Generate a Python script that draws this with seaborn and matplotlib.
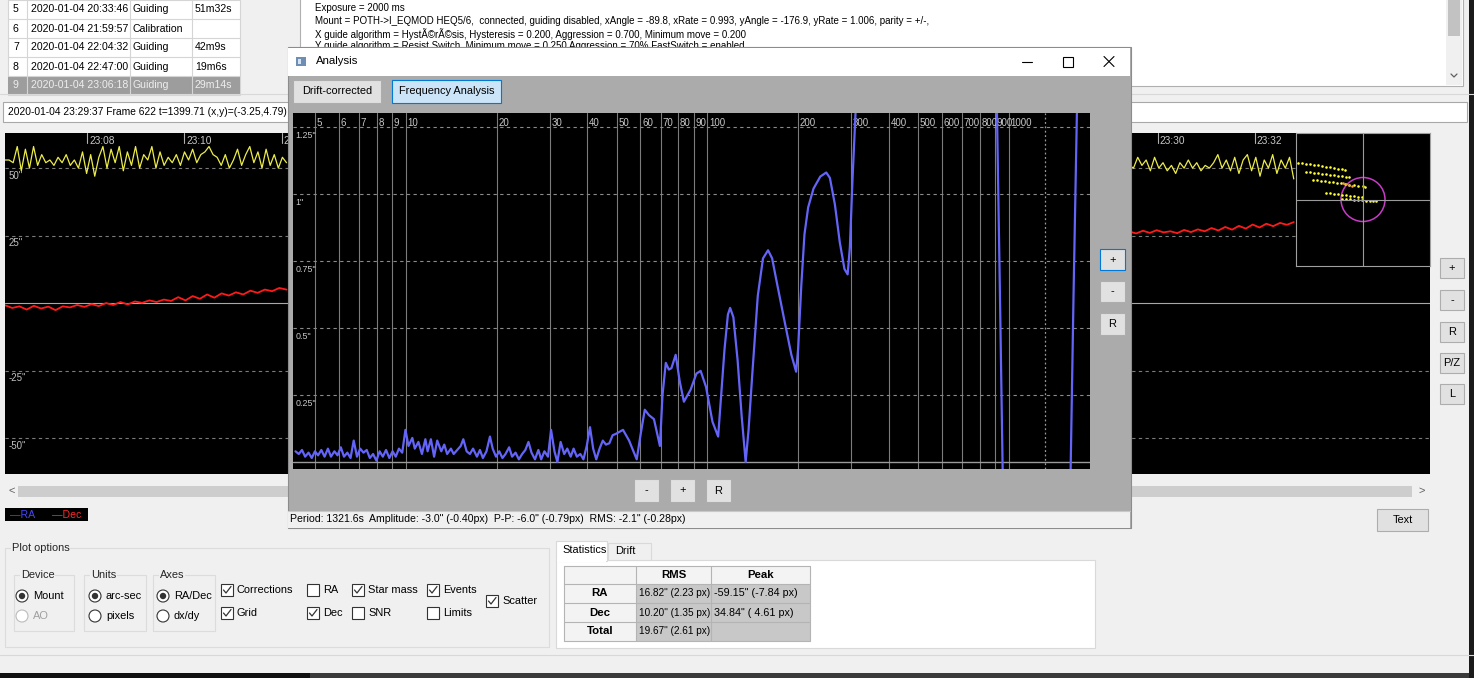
import numpy as np
import matplotlib
matplotlib.use('Agg')
import matplotlib.pyplot as plt
import matplotlib.patches as mpatches
import matplotlib.transforms as mtransforms
from matplotlib import font_manager
import seaborn as sns

sns.set_theme(style='white')
GUI = ['Liberation Sans', 'DejaVu Sans']
plt.rcParams['font.family'] = GUI
try:
    font_manager.findfont('Liberation Sans Narrow', fallback_to_default=False)
    NARROW, NS = ['Liberation Sans Narrow', 'Liberation Sans'], 1.0
except ValueError:
    NARROW, NS = ['Liberation Sans', 'DejaVu Sans'], 0.82

# ---------------- data ----------------
# frequency analysis (period in s -> amplitude in arc-sec)
freq_period_s = [
    4.30, 4.41, 4.52, 4.63, 4.75, 4.87, 4.99, 5.11, 5.24, 5.37,
    5.51, 5.64, 5.79, 5.93, 6.08, 6.23, 6.39, 6.55, 6.71, 6.88,
    7.05, 7.23, 7.41, 7.59, 7.78, 7.98, 8.18, 8.38, 8.59, 8.81,
    9.03, 9.25, 9.48, 9.72, 9.96, 10.2, 10.5, 10.7, 11.0, 11.3,
    11.6, 11.8, 12.1, 12.4, 12.7, 13.1, 13.4, 13.7, 14.1, 14.4,
    14.8, 15.2, 15.5, 15.9, 16.3, 16.7, 17.2, 17.6, 18.0, 18.5,
    19.0, 19.4, 19.9, 20.4, 20.9, 21.4, 22.0, 22.5, 23.1, 23.7,
    24.3, 24.9, 25.5, 26.1, 26.8, 27.5, 28.1, 28.8, 29.6, 30.3,
    31.1, 31.8, 32.6, 33.5, 34.3, 35.2, 36.0, 36.9, 37.9, 38.8,
    39.8, 40.8, 41.8, 42.8, 43.9, 45.0, 46.1, 47.3, 48.5, 49.7,
    52.5, 55.0, 58.3, 60.0, 62.0, 64.0, 66.5, 69.6, 71.0, 72.8,
    74.5, 76.0, 78.5, 81.0, 83.6, 88.0, 92.0, 95.0, 99.0, 104,
    108.6, 112, 114, 117, 119, 122, 126, 130, 134, 137,
    141, 147, 153, 159, 164, 170, 180, 190, 197, 200,
    205, 210, 216, 225, 237, 248, 255, 265, 275, 285,
    292, 297, 303, 313, 340, 400, 550, 750, 880, 914,
    935, 955, 990, 1100, 1300, 1500, 1603, 1640, 1684, 1760,
    1900]
freq_amp_arcsec = [
    0.04, 0.03, 0.045, 0.02, 0.035, 0.015, 0.04, 0.025, 0.045, 0.02,
    0.05, 0.02, 0.04, 0.025, 0.055, 0.02, 0.035, 0.015, 0.08, 0.02,
    0.05, 0.035, 0.045, 0.015, 0.03, 0.005, 0.04, 0.02, 0.045, 0.015,
    0.04, 0.02, 0.05, 0.035, 0.12, 0.06, 0.09, 0.05, 0.075, 0.03,
    0.085, 0.04, 0.085, 0.02, 0.08, 0.04, 0.065, 0.03, 0.05, 0.03,
    0.045, 0.06, 0.085, 0.04, 0.03, 0.05, 0.02, 0.045, 0.015, 0.04,
    0.095, 0.05, 0.02, 0.04, 0.015, 0.03, 0.055, 0.02, 0.035, 0.01,
    0.03, 0.045, 0.075, 0.035, 0.01, 0.045, 0.01, 0.04, 0.02, 0.12,
    0.04, 0.0, 0.075, 0.03, 0.05, 0.02, 0.05, 0.02, 0.03, 0.01,
    0.06, 0.13, 0.05, 0.01, 0.05, 0.08, 0.065, 0.07, 0.1, 0.105,
    0.12, 0.08, 0.01, 0.10, 0.195, 0.175, 0.16, 0.06, 0.25, 0.37,
    0.345, 0.35, 0.40, 0.30, 0.225, 0.27, 0.33, 0.34, 0.28, 0.15,
    0.095, 0.30, 0.42, 0.55, 0.575, 0.54, 0.38, 0.17, 0.0, 0.12,
    0.33, 0.62, 0.76, 0.79, 0.76, 0.67, 0.53, 0.40, 0.337, 0.42,
    0.66, 0.85, 0.95, 1.02, 1.065, 1.08, 1.06, 0.96, 0.82, 0.72,
    0.70, 0.80, 1.05, 1.40, 2.6, 4.0, 5.0, 3.5, 1.6, 1.3,
    0.62, -0.05, -0.9, -2.5, -3.0, -1.3, -0.05, 0.62, 1.32, 2.4,
    3.5]
period_ticks = [5, 6, 7, 8, 9, 10, 20, 30, 40, 50, 60, 70, 80, 90, 100,
                200, 300, 400, 500, 600, 700, 800, 900, 1000]
amp_ticks = [0.25, 0.5, 0.75, 1.0, 1.25]
amp_tick_labels = ['0.25"', '0.5"', '0.75"', '1"', '1.25"']
period_total_s = 1321.6

# guide graph (minutes after 23:00 -> arc-sec)
ra_left_span = (6.315, 12.1)
ra_left = [53, 53, 52, 58, 49, 57, 50, 58, 51, 55,
           52, 53, 51, 54, 52, 55, 51, 53, 50, 56,
           48, 55, 47, 54, 58, 50, 57, 52, 58, 49,
           56, 51, 58, 50, 55, 53, 58, 50, 56, 51,
           54, 52, 55, 51, 56, 53, 57, 52, 55, 56,
           58, 55, 54, 51, 55, 50, 53, 57, 51, 55,
           58, 52, 56, 50, 57, 51, 55, 50, 54, 52]
ra_right_span = (29.42, 32.8)
ra_right = [51, 50, 54, 51, 53, 49, 54, 50, 52, 49, 51, 48, 52, 50, 53, 50, 52, 49, 51, 50,
            52, 55, 50, 53, 49, 54, 48, 53, 55, 49, 54, 47, 53, 50, 55, 48, 53, 50, 54, 46]
dec_left_span = (6.315, 12.1)
dec_left = [-0.8, -1.8, -1.2, -2.4, -1.0, -2.0, -1.3, -2.6, -1.2, -1.6,
            -0.7, -1.4, -0.4, -1.1, 0.0, -0.7, 0.4, -0.5, 0.6, 0.1,
            1.0, 0.4, 1.3, 0.8, 2.2, 1.0, 2.6, 1.6, 3.2, 2.0,
            3.6, 2.8, 4.0, 3.2, 4.6, 3.8, 5.0, 4.4, 5.6, 5.0]
dec_right_span = (29.42, 32.8)
dec_right = [26.5, 25.8, 26.8, 26.0, 27.0, 26.2, 26.6, 25.9, 27.1, 26.3, 27.3, 26.6, 27.8,
             26.9, 28.2, 27.2, 28.6, 27.6, 29.1, 28.0, 29.4, 28.5, 29.7, 29.0, 30.0]
guide_grid = [-50, -25, 25, 50]
guide_grid_labels = ['-50"', '-25"', '25"', '50"']
time_tick_min = list(range(8, 36, 2))

# scatter inset
scatter_dx = [-65, -61, -57, -53, -49, -45, -41, -37, -33, -29, -25, -21, -18,
              -57, -53, -49, -45, -41, -37, -33, -29, -25, -21, -17, -14,
              -50, -46, -42, -38, -34, -30, -26, -22, -18, -14, -9, -5, 0, 2,
              -37, -33, -29, -25, -21, -17, -13, -9, -5, -1,
              -21, -17, -13, -9, -5, -1, 3, 7, 10, 13]
scatter_dy = [37, 37, 36, 36, 35, 35, 34, 33, 33, 32, 31, 31, 30,
              28, 28, 27, 27, 26, 26, 25, 25, 24, 24, 23, 23,
              20, 20, 19, 19, 18, 18, 17, 17, 16, 15, 15, 14, 14, 13,
              7, 7, 6, 6, 5, 5, 4, 4, 3, 3,
              1, 1, 1, 0, 0, 0, -1, -1, -1, -1]
scatter_recent_dx = [-20, -17, -14, -11]
scatter_recent_dy = [17, 16, 15, 14]
scatter_radius = 22

# session list / stats
list_index = ['5', '6', '7', '8', '9']
list_start = ['2020-01-04 20:33:46', '2020-01-04 21:59:57', '2020-01-04 22:04:32',
              '2020-01-04 22:47:00', '2020-01-04 23:06:18']
list_type = ['Guiding', 'Calibration', 'Guiding', 'Guiding', 'Guiding']
list_duration = ['51m32s', '', '42m9s', '19m6s', '29m14s']
stats_rows = ['RA', 'Dec', 'Total']
stats_rms = ['16.82" (2.23 px)', '10.20" (1.35 px)', '19.67" (2.61 px)']
stats_peak = ['-59.15" (-7.84 px)', '34.84" ( 4.61 px)', '']

# ---------------- helpers ----------------
W, H = 1474, 678
fig = plt.figure(figsize=(W / 100, H / 100), dpi=100)
fig.patch.set_facecolor('#f0f0f0')


def px_axes(x0, y0, x1, y1, z):
    return fig.add_axes([x0 / W, 1 - y1 / H, (x1 - x0) / W, (y1 - y0) / H], zorder=z)


def canvas(z):
    ax = px_axes(0, 0, W, H, z)
    ax.set_xlim(0, W)
    ax.set_ylim(H, 0)
    ax.axis('off')
    return ax


def box(ax, x0, y0, x1, y1, fc='#f0f0f0', ec='none', lw=0.8):
    ax.add_patch(mpatches.Rectangle((x0, y0), x1 - x0, y1 - y0, facecolor=fc,
                                    edgecolor=ec, linewidth=lw))


def label(ax, x, y, s, size=7.9, color='black', ha='left', narrow=False, **kw):
    if narrow:
        size *= NS
    ax.text(x, y, s, fontsize=size, color=color, ha=ha, va='center',
            family=NARROW if narrow else GUI, **kw)


def button(ax, x0, y0, x1, y1, s, fc='#e1e1e1', ec='#adadad', size=7.9):
    box(ax, x0, y0, x1, y1, fc, ec)
    label(ax, (x0 + x1) / 2, (y0 + y1) / 2, s, size=size, ha='center')


def checkbox(ax, x, y, s, checked):
    box(ax, x, y - 6, x + 12, y + 6, 'white', '#333333')
    if checked:
        ax.plot([x + 2.5, x + 5, x + 10], [y, y + 3, y - 3.5], color='#333333', lw=0.9)
    label(ax, x + 16, y, s)


def radio(ax, x, y, s, on, enabled=True):
    col = '#333333' if enabled else '#bcbcbc'
    ax.add_patch(mpatches.Circle((x, y), 6, facecolor='white', edgecolor=col, lw=0.8))
    if on:
        ax.add_patch(mpatches.Circle((x, y), 3.2, facecolor='#333333', edgecolor='none'))
    label(ax, x + 11, y, s, color='black' if enabled else '#a0a0a0')


def group(ax, x0, y0, x1, y1, title):
    box(ax, x0, y0, x1, y1, 'none', '#dcdcdc')
    ax.text(x0 + 7, y0, title, fontsize=7.9, va='center', ha='left',
            bbox=dict(facecolor='#f0f0f0', edgecolor='none', pad=0.5))


# ---------------- base window ----------------
base = canvas(0)

# session list
box(base, 8, 0, 240, 95, 'white', '#d5d5d5')
box(base, 8, 76, 240, 95, '#9d9d9d')
for yl in [19, 38, 57, 76]:
    base.plot([8, 240], [yl, yl], color='#d5d5d5', lw=0.8)
for xl in [27, 130, 192]:
    base.plot([xl, xl], [0, 95], color='#d5d5d5', lw=0.8)
for i in range(len(list_index)):
    yc = 9.5 + 19 * i
    c = '#eeeeee' if i == len(list_index) - 1 else 'black'
    label(base, 13, yc, list_index[i], 9.2, c, narrow=True)
    label(base, 31, yc, list_start[i], 9.2, c, narrow=True)
    label(base, 133, yc, list_type[i], 9.2, c, narrow=True)
    label(base, 195, yc, list_duration[i], 9.2, c, narrow=True)

# info text
box(base, 300, -2, 1463, 86, 'white', '#b0b0b0')
box(base, 1446, 0, 1462, 85, '#f0f0f0')
box(base, 1448, 0, 1460, 36, '#c2c2c2')
base.plot([1451, 1454, 1457], [74, 77, 74], color='#606060', lw=0.9)
label(base, 315, 8, 'Exposure = 2000 ms', 8.6, narrow=True)
label(base, 315, 21, 'Mount = POTH->I_EQMOD HEQ5/6,  connected, guiding disabled, xAngle = -89.8, '
      'xRate = 0.993, yAngle = -176.9, yRate = 1.006, parity = +/-,', 8.6, narrow=True)
label(base, 315, 34, 'X guide algorithm = HystÃ©rÃ©sis, Hysteresis = 0.200, Aggression = 0.700, '
      'Minimum move = 0.200', 8.6, narrow=True)
label(base, 315, 46, 'Y guide algorithm = Resist Switch, Minimum move = 0.250 Aggression = 70% '
      'FastSwitch = enabled', 8.6, narrow=True)
base.plot([0, W], [94, 94], color='#d8d8d8', lw=0.8)

# status line
box(base, 3, 102, 1467, 122, 'white', '#a8a8a8')
label(base, 8, 112, '2020-01-04 23:29:37 Frame 622 t=1399.71 (x,y)=(-3.25,4.79)', 9.0, narrow=True)

# scrollbar + legend + buttons
box(base, 18, 486, 1412, 497, '#cdcdcd')
label(base, 12, 491, '<', 8, '#606060', ha='center')
label(base, 1422, 491, '>', 8, '#606060', ha='center')
box(base, 5, 508, 88, 521, 'black')
label(base, 10, 514.5, '—RA', 7.6, '#4646ff')
label(base, 52, 514.5, '—Dec', 7.6, '#ff2a2a')
button(base, 1377, 509, 1428, 531, 'Text')
for s, y0 in zip(['+', '-', 'R', 'P/Z', 'L'], [258, 290, 322, 353, 384]):
    button(base, 1440, y0, 1464, y0 + 20, s)

# plot options
group(base, 5, 548, 549, 647, 'Plot options')
group(base, 14, 575, 74, 631, 'Device')
group(base, 84, 575, 146, 631, 'Units')
group(base, 153, 575, 215, 631, 'Axes')
radio(base, 22, 596, 'Mount', True)
radio(base, 22, 616, 'AO', False, enabled=False)
radio(base, 95, 596, 'arc-sec', True)
radio(base, 95, 616, 'pixels', False)
radio(base, 163, 596, 'RA/Dec', True)
radio(base, 163, 616, 'dx/dy', False)
checkbox(base, 221, 590, 'Corrections', True)
checkbox(base, 221, 613, 'Grid', True)
checkbox(base, 307, 590, 'RA', False)
checkbox(base, 307, 613, 'Dec', True)
checkbox(base, 352, 590, 'Star mass', True)
checkbox(base, 352, 613, 'SNR', False)
checkbox(base, 427, 590, 'Events', True)
checkbox(base, 427, 613, 'Limits', False)
checkbox(base, 486, 601, 'Scatter', True)

# statistics
box(base, 556, 560, 1095, 648, 'white', '#d9d9d9')
box(base, 608, 543, 651, 560, '#f0f0f0', '#d9d9d9')
box(base, 556, 541, 607, 561, 'white', '#d9d9d9')
box(base, 557, 559, 606, 562, 'white')
label(base, 562, 550, 'Statistics')
label(base, 615, 551, 'Drift')
col_x = [564, 636, 711, 810]
row_y = [566, 584, 603, 622, 641]
box(base, col_x[0], row_y[0], col_x[3], row_y[1], '#f3f3f3')
box(base, col_x[0], row_y[1], col_x[1], row_y[4], '#f3f3f3')
box(base, col_x[1], row_y[1], col_x[3], row_y[4], '#c8c8c8')
for yl in row_y:
    base.plot([col_x[0], col_x[3]], [yl, yl], color='#b4b4b4', lw=0.8)
for xl in col_x:
    base.plot([xl, xl], [row_y[0], row_y[4]], color='#b4b4b4', lw=0.8)
label(base, 673.5, 575, 'RMS', 8.2, ha='center', weight='bold')
label(base, 760.5, 575, 'Peak', 8.2, ha='center', weight='bold')
for i in range(len(stats_rows)):
    yc = (row_y[i + 1] + row_y[i + 2]) / 2
    label(base, 600, yc, stats_rows[i], 8.2, ha='center', weight='bold')
    label(base, 639, yc, stats_rms[i], 8.8, narrow=True)
    label(base, 714, yc, stats_peak[i], 9.4, narrow=True)

base.plot([0, W], [655, 655], color='#d8d8d8', lw=0.8)
box(base, 0, 673, 310, 678, '#101010')
box(base, 310, 673, W, 678, '#3a3a3a')
box(base, 1469, 0, W, 678, '#1a1a1a')

# ---------------- guide graph ----------------
ag = px_axes(5, 133, 1430, 474, 1)
ag.set_facecolor('black')
for sp in ag.spines.values():
    sp.set_visible(False)
ag.set_xticks([])
ag.set_yticks([])
for v, t in zip(guide_grid, guide_grid_labels):
    ag.axhline(v, color='#7a7a7a', lw=0.8, ls=(0, (3, 3)))
    ag.annotate(t, xy=(0, v), xycoords=mtransforms.blended_transform_factory(ag.transAxes, ag.transData),
                xytext=(2.5, -2), textcoords='offset points', va='top', ha='left',
                color='#c0c0c0', fontsize=7)
ag.axhline(0, color='#a8a8a8', lw=0.8)
tb = mtransforms.blended_transform_factory(ag.transData, ag.transAxes)
for m in time_tick_min:
    ag.axvline(m, ymin=1 - 10 / 341, ymax=1, color='#b0b0b0', lw=0.8)
    ag.annotate(f'23:{m:02d}', xy=(m, 1), xycoords=tb, xytext=(1.5, -5.5),
                textcoords='offset points', va='center', ha='left', color='#c8c8c8', fontsize=7.3)
for span, vals, col, lw in [(ra_left_span, ra_left, '#ecec48', 0.9),
                            (ra_right_span, ra_right, '#ecec48', 0.9),
                            (dec_left_span, dec_left, '#ff1a1a', 1.3),
                            (dec_right_span, dec_right, '#ff1a1a', 1.3)]:
    sns.lineplot(x=np.linspace(span[0], span[1], len(vals)), y=vals, ax=ag,
                 color=col, linewidth=lw, estimator=None, sort=False)
ag.set_xlim(6.315, 35.6)
ag.set_ylim(-63.3, 63.0)
ag.set_xlabel('')
ag.set_ylabel('')

# scatter inset
ai = px_axes(1296, 133, 1430, 266, 2)
ai.set_facecolor('black')
for sp in ai.spines.values():
    sp.set_color('#a0a0a0')
    sp.set_linewidth(0.8)
ai.set_xticks([])
ai.set_yticks([])
ai.axhline(0, color='#9a9a9a', lw=0.8)
ai.axvline(0, color='#9a9a9a', lw=0.8)
ai.add_patch(mpatches.Circle((0, 0), scatter_radius, fill=False, edgecolor='#c83cc8', lw=1.1))
sns.scatterplot(x=scatter_dx, y=scatter_dy, ax=ai, color='#ffff30', s=3.5, marker='o', linewidth=0)
sns.scatterplot(x=scatter_recent_dx, y=scatter_recent_dy, ax=ai, color='#ff9a40', s=3.5,
                marker='o', linewidth=0)
ai.set_xlim(-67, 67)
ai.set_ylim(-66.5, 66.5)
ai.set_xlabel('')
ai.set_ylabel('')

# ---------------- analysis window ----------------
win = canvas(3)
box(win, 288, 47, 1131, 528, '#ababab', '#8c8c8c')
box(win, 288.5, 47.5, 1130.5, 76, 'white')
box(win, 296, 57, 306, 66, '#6d8fb5')
box(win, 298, 59, 301, 64, '#d6e2ee')
label(win, 316, 61.5, 'Analysis', 8.2)
win.plot([1022, 1032], [61.5, 61.5], color='black', lw=0.8)
box(win, 1063, 56.5, 1073, 66.5, 'none', 'black')
win.plot([1104, 1114], [56.5, 66.5], color='black', lw=0.8)
win.plot([1104, 1114], [66.5, 56.5], color='black', lw=0.8)
button(win, 293, 80, 381, 103, 'Drift-corrected')
button(win, 392, 80, 501, 103, 'Frequency Analysis', fc='#cce4f7', ec='#0078d7')
button(win, 634, 479, 659, 502, '-')
button(win, 670, 479, 695, 502, '+')
button(win, 706, 479, 731, 502, 'R')
button(win, 1100, 249, 1125, 270, '+', ec='#0078d7')
button(win, 1100, 281, 1125, 302, '-')
button(win, 1100, 313, 1125, 335, 'R')
box(win, 288.5, 511, 1130.5, 527.5, '#f0f0f0')
win.plot([288.5, 1130.5], [511, 511], color='#c8c8c8', lw=0.8)
label(win, 290, 519.5, 'Period: 1321.6s  Amplitude: -3.0" (-0.40px)  P-P: -6.0" (-0.79px)  '
      'RMS: -2.1" (-0.28px)', 9.2, narrow=True)

# frequency plot
af = px_axes(293, 113, 1090, 469, 4)
af.set_facecolor('black')
for sp in af.spines.values():
    sp.set_visible(False)
sns.lineplot(x=freq_period_s, y=freq_amp_arcsec, ax=af, color='#6464f8', linewidth=1.6,
             estimator=None, sort=False, zorder=5)
af.set_xscale('log')
af.set_xlim(4.22, 1860)
af.set_ylim(-0.026, 1.302)
af.set_xticks([])
af.set_yticks([])
af.minorticks_off()
af.set_xlabel('')
af.set_ylabel('')
fb = mtransforms.blended_transform_factory(af.transData, af.transAxes)
for p in period_ticks:
    af.axvline(p, color='#7c7c7c', lw=0.8, zorder=1)
    af.annotate(str(p), xy=(p, 1 - 10 / 356), xycoords=fb, xytext=(1.2, 0),
                textcoords='offset points', va='center', ha='left', color='#c8c8c8', fontsize=7)
af.axvline(period_total_s, color='#9a9a9a', lw=0.9, ls=(0, (1.5, 2)), zorder=1)
ab = mtransforms.blended_transform_factory(af.transAxes, af.transData)
for v, t in zip(amp_ticks, amp_tick_labels):
    af.axhline(v, color='#8a8a8a', lw=0.8, ls=(0, (3, 3)), zorder=1)
    af.annotate(t, xy=(0, v), xycoords=ab, xytext=(2.0, -3.2), textcoords='offset points',
                va='top', ha='left', color='#c8c8c8', fontsize=6.4)
af.axhline(0, color='#9a9a9a', lw=1.0, zorder=1)

fig.savefig('out.png', dpi=100, facecolor=fig.get_facecolor())
